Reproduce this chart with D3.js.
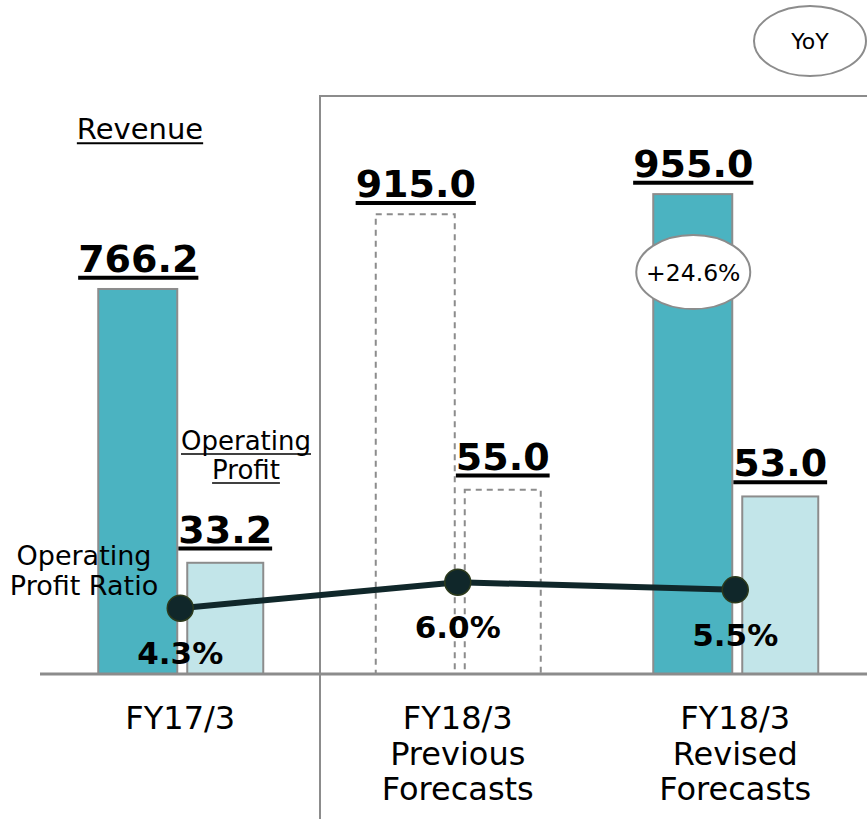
<!DOCTYPE html>
<html>
<head>
<meta charset="utf-8">
<script src="https://cdn.jsdelivr.net/npm/d3@7"></script>
<style>
  body { margin: 0; background: #fff; }
  svg { display: block; font-family: 'DejaVu Sans', Verdana, sans-serif; }
</style>
</head>
<body>
<div id="chart"></div>
<script>
const categories = ['FY17/3', 'FY18/3 Previous Forecasts', 'FY18/3 Revised Forecasts']
const categoryLines = [['FY17/3'], ['FY18/3', 'Previous', 'Forecasts'], ['FY18/3', 'Revised', 'Forecasts']]
const revenue = [766.2, 915.0, 955.0]
const operatingProfit = [33.2, 55.0, 53.0]
const profitRatio = [4.3, 6.0, 5.5]
const isForecast = [false, true, false]
const yoyRevenue = [null, null, '+24.6%']

const width = 867, height = 819
const base = 674

let svg = d3.select('#chart').append('svg')
            .attr('width', width)
            .attr('height', height)

let x = d3.scaleBand().domain(categories).range([41.5, 874]).padding(0)
let yRev = d3.scaleLinear().domain([0, 1000]).range([base, base - 502.5])
let yProf = d3.scaleLinear().domain([0, 100]).range([base, base - 335])
let yRatio = d3.scaleLinear().domain([0, 10]).range([base, base - 153])

const cx = (d) => x(d) + x.bandwidth() / 2

// forecast frame
svg.append('path')
   .attr('d', 'M320,819 L320,96 L867,96')
   .attr('fill', 'none')
   .attr('stroke', '#8c8c8c')
   .attr('stroke-width', 2)

// revenue bars
svg.selectAll('.rev')
   .data(categories)
   .enter().append('rect')
   .attr('class', 'rev')
   .attr('x', (d) => cx(d) - 82)
   .attr('width', 79)
   .attr('y', (d, i) => yRev(revenue[i]))
   .attr('height', (d, i) => base - yRev(revenue[i]))
   .attr('fill', (d, i) => isForecast[i] ? 'none' : '#4bb3c1')
   .attr('stroke', '#8c8c8c')
   .attr('stroke-width', 2)
   .attr('stroke-dasharray', (d, i) => isForecast[i] ? '6,5' : null)

// operating profit bars
svg.selectAll('.prof')
   .data(categories)
   .enter().append('rect')
   .attr('class', 'prof')
   .attr('x', (d) => cx(d) + 7)
   .attr('width', 76)
   .attr('y', (d, i) => yProf(operatingProfit[i]))
   .attr('height', (d, i) => base - yProf(operatingProfit[i]))
   .attr('fill', (d, i) => isForecast[i] ? 'none' : '#c2e5e9')
   .attr('stroke', '#8c8c8c')
   .attr('stroke-width', 2)
   .attr('stroke-dasharray', (d, i) => isForecast[i] ? '6,5' : null)

// baseline
svg.append('line')
   .attr('x1', 40).attr('x2', width)
   .attr('y1', base).attr('y2', base)
   .attr('stroke', '#8c8c8c')
   .attr('stroke-width', 3)

// underlined text helper
function underlined(txt, x0, y0, size, weight, thick) {
  let t = svg.append('text')
             .attr('x', x0).attr('y', y0)
             .attr('text-anchor', 'middle')
             .attr('font-size', size)
             .attr('font-weight', weight)
             .attr('fill', '#000')
             .text(txt)
  let w = t.node().getComputedTextLength()
  svg.append('line')
     .attr('x1', x0 - w / 2).attr('x2', x0 + w / 2)
     .attr('y1', y0 + size * 0.15).attr('y2', y0 + size * 0.15)
     .attr('stroke', '#000')
     .attr('stroke-width', thick)
}

// value labels
categories.forEach((d, i) => {
  underlined(revenue[i].toFixed(1), cx(d) - 42, yRev(revenue[i]) - 17, 38, 'bold', 4)
  underlined(operatingProfit[i].toFixed(1), cx(d) + 45, yProf(operatingProfit[i]) - 20, 38, 'bold', 4)
})

// series captions
underlined('Revenue', 140, 139, 29, 'normal', 2)
underlined('Operating', 246, 450, 26, 'normal', 1.5)
underlined('Profit', 246, 479, 26, 'normal', 1.5)

svg.selectAll('.ratioCap')
   .data(['Operating', 'Profit Ratio'])
   .enter().append('text')
   .attr('x', 84)
   .attr('y', (d, i) => 565 + i * 30)
   .attr('text-anchor', 'middle')
   .attr('font-size', 27)
   .attr('fill', '#000')
   .text((d) => d)

// ratio line
let line = d3.line().x((d, i) => cx(categories[i])).y((d) => yRatio(d))

svg.append('path')
   .datum(profitRatio)
   .attr('d', line)
   .attr('fill', 'none')
   .attr('stroke', '#10272a')
   .attr('stroke-width', 6)

svg.selectAll('.dot')
   .data(profitRatio)
   .enter().append('circle')
   .attr('cx', (d, i) => cx(categories[i]))
   .attr('cy', (d) => yRatio(d))
   .attr('r', 13)
   .attr('fill', '#10272a')
   .attr('stroke', '#2c3a1c')
   .attr('stroke-width', 1.5)

svg.selectAll('.ratioLbl')
   .data(profitRatio)
   .enter().append('text')
   .attr('x', (d, i) => cx(categories[i]))
   .attr('y', (d) => yRatio(d) + 56)
   .attr('text-anchor', 'middle')
   .attr('font-size', 31)
   .attr('font-weight', 'bold')
   .attr('fill', '#000')
   .text((d) => d.toFixed(1) + '%')

// YoY bubbles
function bubble(txt, x0, y0, rx, ry, size) {
  svg.append('ellipse')
     .attr('cx', x0).attr('cy', y0)
     .attr('rx', rx).attr('ry', ry)
     .attr('fill', '#fff')
     .attr('stroke', '#8c8c8c')
     .attr('stroke-width', 2)
  svg.append('text')
     .attr('x', x0).attr('y', y0 + size * 0.36)
     .attr('text-anchor', 'middle')
     .attr('font-size', size)
     .attr('fill', '#000')
     .text(txt)
}

categories.forEach((d, i) => {
  if (yoyRevenue[i]) bubble(yoyRevenue[i], cx(d) - 42, yRev(revenue[i]) + 78, 57, 37, 23.5)
})
bubble('YoY', 810, 41, 56, 35, 22)

// category labels
svg.selectAll('.cat')
   .data(categories)
   .enter().append('text')
   .attr('class', 'cat')
   .attr('text-anchor', 'middle')
   .attr('font-size', 32)
   .attr('fill', '#000')
   .each(function (d, i) {
     d3.select(this).selectAll('tspan')
       .data(categoryLines[i])
       .enter().append('tspan')
       .attr('x', cx(d))
       .attr('y', (t, j) => 729 + j * 35.5)
       .text((t) => t)
   })
</script>
</body>
</html>
